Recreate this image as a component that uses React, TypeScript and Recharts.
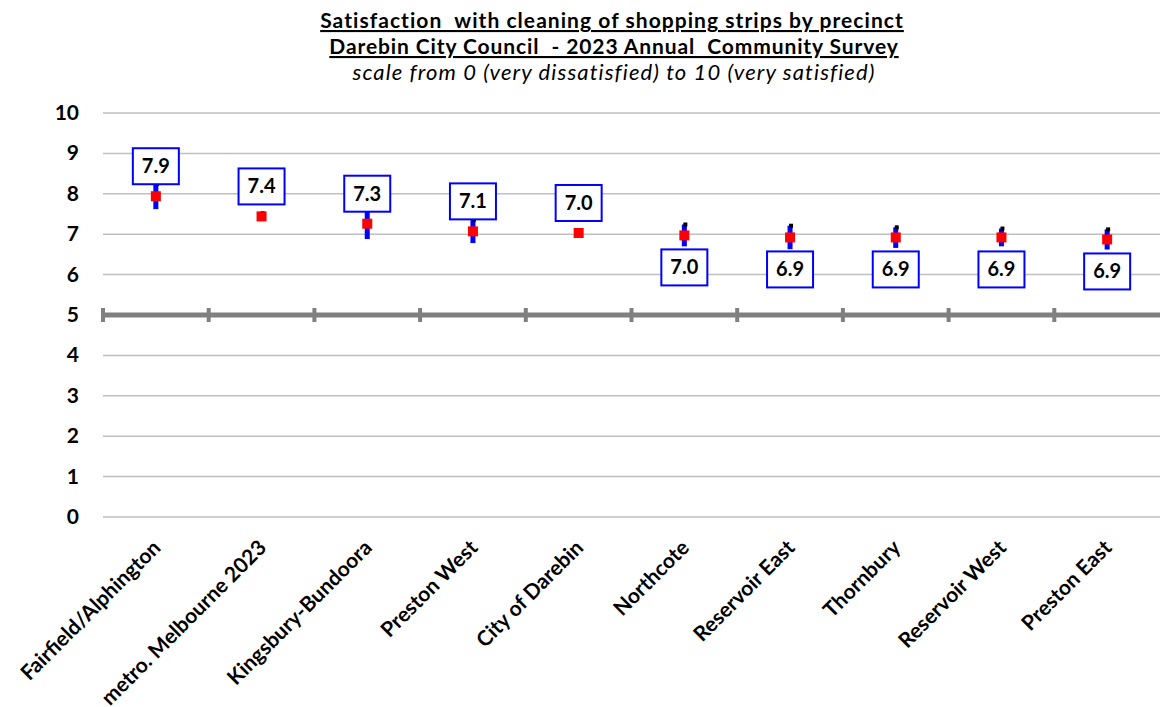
import React from 'react';
import {
  ComposedChart,
  Line,
  Scatter,
  XAxis,
  YAxis,
  CartesianGrid,
  ErrorBar,
  LabelList,
  ReferenceLine,
} from 'recharts';

const precincts = [
  'Fairfield/Alphington',
  'metro. Melbourne 2023',
  'Kingsbury-Bundoora',
  'Preston West',
  'City of Darebin',
  'Northcote',
  'Reservoir East',
  'Thornbury',
  'Reservoir West',
  'Preston East',
];
const means = [7.94, 7.44, 7.26, 7.07, 7.03, 6.97, 6.92, 6.92, 6.92, 6.87];
const lowerBound = [7.62, 7.38, 6.88, 6.78, 6.97, 6.7, 6.63, 6.66, 6.7, 6.62];
const upperBound = [8.24, 7.52, 7.64, 7.36, 7.09, 7.24, 7.21, 7.17, 7.14, 7.12];
const yTicks = [0, 1, 2, 3, 4, 5, 6, 7, 8, 9, 10];
const labelsAboveCount = 5;

const data = precincts.map((name, i) => ({
  name,
  mean: means[i],
  upper: upperBound[i],
  err: [means[i] - lowerBound[i], upperBound[i] - means[i]],
}));

const FONT = "Lato, 'Liberation Sans', Arial, sans-serif";

function XTick(props: any) {
  const { x, y, payload } = props;
  return (
    <g transform={`translate(${x + 6},${y + 24})`}>
      <text
        transform="rotate(-45)"
        textAnchor="end"
        fontFamily={FONT}
        fontWeight="bold"
        fontSize={21}
        fill="#000"
      >
        {payload.value}
      </text>
    </g>
  );
}

function YTick(props: any) {
  const { x, y, payload } = props;
  return (
    <text
      x={x}
      y={y}
      dy={7}
      textAnchor="end"
      fontFamily={FONT}
      fontWeight="bold"
      fontSize={21}
      fill="#000"
    >
      {payload.value}
    </text>
  );
}

function MidLine(props: any) {
  const { x1, x2, y1 } = props;
  const step = (x2 - x1) / precincts.length;
  return (
    <g>
      <line x1={x1 - 2} x2={x2} y1={y1} y2={y1} stroke="#808080" strokeWidth={5} />
      {precincts.map((_, i) => (
        <line
          key={i}
          x1={x1 + i * step}
          x2={x1 + i * step}
          y1={y1 - 7}
          y2={y1 + 7}
          stroke="#808080"
          strokeWidth={4}
        />
      ))}
    </g>
  );
}

function ValueBox(props: any) {
  const { x, y, value, index } = props;
  const w = 46;
  const h = 36;
  const above = index < labelsAboveCount;
  const top = above ? y - 12 - h : y + 14;
  return (
    <g>
      <rect x={x - w / 2} y={top} width={w} height={h} fill="#fff" stroke="#0000FF" strokeWidth={2} />
      <text
        x={x}
        y={top + h / 2 + 7}
        textAnchor="middle"
        fontFamily={FONT}
        fontWeight="bold"
        fontSize={20}
        fill="#000"
      >
        {Number(value).toFixed(1)}
      </text>
    </g>
  );
}

function RedSquare(props: any) {
  const { cx, cy } = props;
  if (cx == null || cy == null) return null;
  return <rect x={cx - 5} y={cy - 5} width={10} height={10} fill="#FF0000" />;
}

function TopDot(props: any) {
  const { cx, cy } = props;
  return <rect x={cx - 1} y={cy - 2} width={4} height={4} fill="#000" />;
}

export default function App() {
  return (
    <div style={{ position: 'absolute', left: 0, top: 0, width: 1160, height: 707, background: '#fff' }}>
      <svg width={1160} height={90} style={{ position: 'absolute', left: 0, top: 0 }}>
        <text
          x={612}
          y={28}
          textAnchor="middle"
          fontFamily={FONT}
          fontWeight="bold"
          fontSize={21}
          letterSpacing={1.05}
          textDecoration="underline"
          fill="#000"
          style={{ whiteSpace: 'pre' }}
        >
          {'Satisfaction  with cleaning of shopping strips by precinct'}
        </text>
        <text
          x={614}
          y={54}
          textAnchor="middle"
          fontFamily={FONT}
          fontWeight="bold"
          fontSize={21}
          letterSpacing={0.9}
          textDecoration="underline"
          fill="#000"
          style={{ whiteSpace: 'pre' }}
        >
          {'Darebin City Council  - 2023 Annual  Community Survey'}
        </text>
        <text
          x={614}
          y={80}
          textAnchor="middle"
          fontFamily={FONT}
          fontStyle="italic"
          fontSize={22}
          letterSpacing={1.1}
          fill="#000"
        >
          scale from 0 (very dissatisfied) to 10 (very satisfied)
        </text>
      </svg>
      <ComposedChart
        width={1160}
        height={707}
        data={data}
        margin={{ top: 113, right: 0, bottom: 0, left: 0 }}
        style={{ position: 'absolute', left: 0, top: 0 }}
      >
        <CartesianGrid vertical={false} stroke="#BFBFBF" strokeWidth={1.5} />
        <XAxis
          dataKey="name"
          scale="band"
          interval={0}
          axisLine={false}
          tickLine={false}
          height={190}
          tick={<XTick />}
        />
        <YAxis
          type="number"
          domain={[0, 10]}
          ticks={yTicks}
          interval={0}
          width={103}
          axisLine={false}
          tickLine={false}
          tickMargin={18}
          tick={<YTick />}
        />
        <ReferenceLine y={5} shape={<MidLine />} />
        <Line dataKey="mean" stroke="none" dot={false} activeDot={false} isAnimationActive={false}>
          <ErrorBar dataKey="err" direction="y" width={0} stroke="#0000FF" strokeWidth={5} isAnimationActive={false} />
        </Line>
        <Scatter dataKey="upper" shape={<TopDot />} isAnimationActive={false} />
        <Line dataKey="mean" stroke="none" dot={<RedSquare />} activeDot={false} isAnimationActive={false}>
          <LabelList dataKey="mean" content={<ValueBox />} />
        </Line>
      </ComposedChart>
    </div>
  );
}
